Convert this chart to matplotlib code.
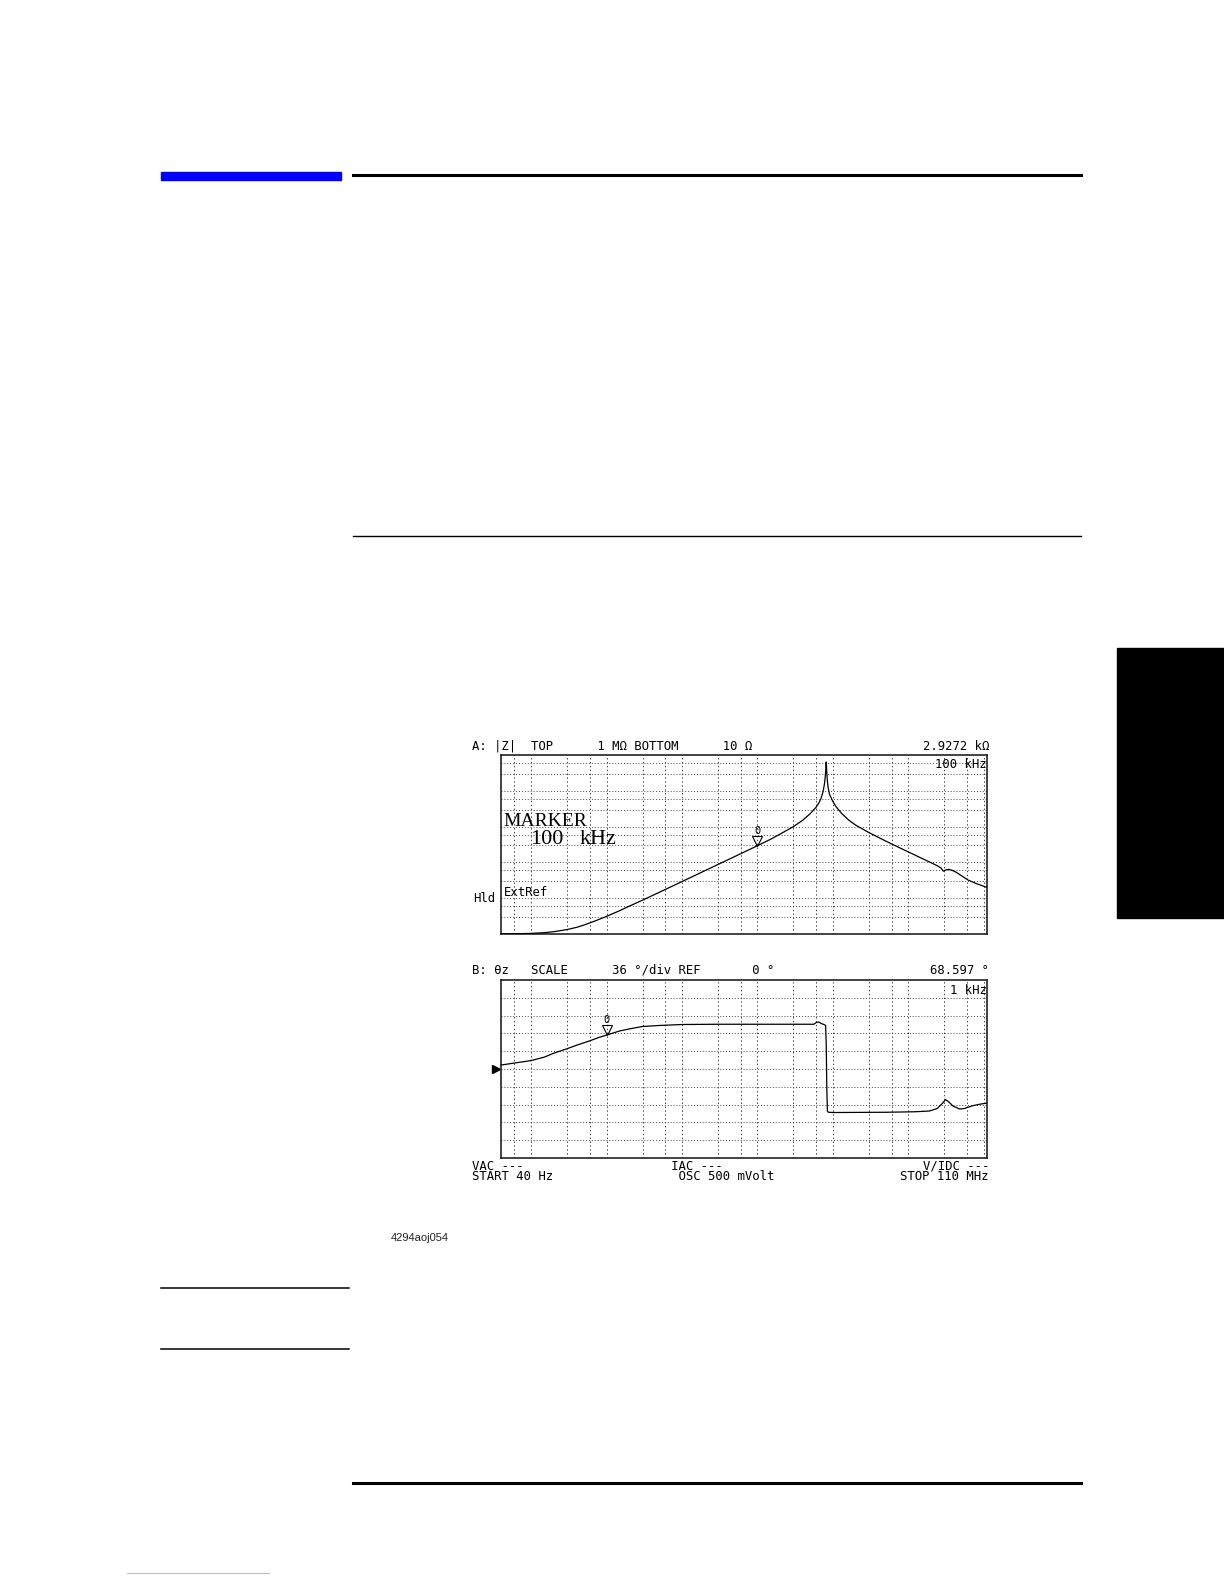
import matplotlib
matplotlib.use("Agg")
import matplotlib.pyplot as plt
from matplotlib.patches import Rectangle
from matplotlib.lines import Line2D
from matplotlib.ticker import NullLocator
from matplotlib.transforms import offset_copy, blended_transform_factory

W, H = 1224, 1584

# trace A: |Z| (ohm) vs frequency (Hz)
freq_a = [40, 70, 100, 150, 200, 300, 400, 500, 700, 1e3, 1.5e3, 2e3, 3e3, 5e3, 7e3,
          1e4, 1.5e4, 2e4, 3e4, 5e4, 7e4, 1e5, 1.5e5, 2e5, 3e5, 4e5, 5e5, 6e5, 6.6e5,
          7e5, 7.4e5, 7.7e5, 7.9e5, 8.05e5, 8.15e5, 8.25e5, 8.4e5, 8.6e5, 9e5, 1e6,
          1.1e6, 1.3e6, 1.6e6, 2e6, 3e6, 5e6, 7e6, 1e7, 1.5e7, 2e7, 2.4e7, 2.7e7,
          2.9e7, 3.1e7, 3.4e7, 3.8e7, 4.3e7, 5e7, 6.2e7, 8e7, 1.1e8]
z_a = [10.1, 10.2, 10.4, 10.9, 11.6, 13.3, 15.3, 17.7, 23.0, 31.0, 45, 60, 88, 146, 204,
       292, 437, 583, 875, 1460, 2045, 2927, 4450, 6200, 10000, 15200, 23000, 35000, 48000,
       64000, 95000, 150000, 240000, 400000, 640000, 400000, 210000, 130000, 80000, 50000,
       36000, 23500, 15500, 11000, 6800, 3950, 2800, 1960, 1300, 980, 810, 700,
       570, 610, 640, 600, 530, 430, 320, 255, 200]

# trace B: theta z (deg) vs frequency (Hz)
freq_b = [40, 60, 100, 150, 200, 300, 400, 600, 800, 1e3, 1.5e3, 2e3, 3e3, 5e3, 1e4,
          3e4, 1e5, 3e5, 5.6e5, 6e5, 6.5e5, 7e5, 7.6e5, 8e5, 8.15e5, 8.3e5, 8.45e5,
          8.7e5, 1e6, 5e6, 1.2e7, 1.9e7, 2.4e7, 2.8e7, 3.1e7, 3.4e7, 3.9e7, 4.8e7,
          5.5e7, 7.2e7, 9e7, 1.1e8]
theta_b = [8, 12, 17, 24, 32, 41, 48, 57, 64, 68.6, 77, 81, 86, 88, 90,
           90.5, 90.5, 90.5, 90.5, 94, 95, 92, 90, 88, 50, -40, -85,
           -87.5, -88, -87.5, -86.5, -85, -80, -70, -62, -66, -75, -81,
           -80, -74, -71, -69]

grid_f = [60, 100, 300, 600, 1e3, 3e3, 6e3, 1e4, 3e4, 6e4, 1e5, 3e5, 6e5,
          1e6, 3e6, 6e6, 1e7, 3e7, 6e7, 1e8]
grid_z = [30, 60, 100, 300, 600, 1e3, 3e3, 6e3, 1e4, 3e4, 6e4, 1e5, 3e5, 6e5]
grid_t = [-144, -108, -72, -36, 0, 36, 72, 108, 144]

mk_a = (1e5, 2927.2)
mk_b = (1e3, 68.597)

mono = "DejaVu Sans Mono"
fs = 8.85


def fx(x):
    return x / W


def fy(y):
    return 1 - y / H


fig = plt.figure(figsize=(W / 100, H / 100), dpi=100)

# page decorations
fig.add_artist(Rectangle((fx(161), fy(180)), 180 / W, 8 / H, color="#0000ff", transform=fig.transFigure))
for y, x0, x1, lw in [(174.5, 353, 1081, 2.2), (536, 353, 1081, 1.0), (1288, 161, 349, 1.1),
                      (1349, 161, 349, 1.1), (1482.5, 353, 1081, 2.2)]:
    fig.add_artist(Line2D([fx(x0), fx(x1)], [fy(y), fy(y)], color="black", lw=lw,
                          transform=fig.transFigure))
fig.add_artist(Line2D([fx(127), fx(269)], [fy(1573), fy(1573)], color="#b8bfd0", lw=0.8,
                      transform=fig.transFigure))
fig.add_artist(Rectangle((fx(1117), fy(918)), 107 / W, 270 / H, color="black", transform=fig.transFigure))
fig.text(fx(391), fy(1238), "4294aoj054", fontfamily="Liberation Sans", fontsize=8,
         color="#222222", va="center", ha="left")

ax1 = fig.add_axes([fx(501), fy(934), 486 / W, 179 / H])
ax2 = fig.add_axes([fx(501), fy(1158), 486 / W, 178 / H])

ax1.set_yscale("log")
ax1.set_ylim(10, 1e6)
ax2.set_ylim(-180, 180)

for ax in (ax1, ax2):
    ax.set_xscale("log")
    ax.set_xlim(40, 110e6)
    for axis in (ax.xaxis, ax.yaxis):
        axis.set_major_locator(NullLocator())
        axis.set_minor_locator(NullLocator())
    ax.tick_params(which="both", left=False, bottom=False, labelleft=False, labelbottom=False)
    for s in ax.spines.values():
        s.set_linewidth(1.2)
        s.set_color("#222222")
    for f in grid_f:
        ax.axvline(f, color="#444444", lw=0.7, ls=(0, (1.5, 2.5)), zorder=1)

for z in grid_z:
    ax1.axhline(z, color="#444444", lw=0.7, ls=(0, (1, 2)), zorder=1)
for t in grid_t:
    ax2.axhline(t, color="#444444", lw=0.7, ls=(0, (1, 2)), zorder=1)

ax1.plot(freq_a, z_a, color="black", lw=0.9, zorder=3)
ax2.plot(freq_b, theta_b, color="black", lw=0.9, zorder=3)

# markers
for ax, (mf, mv) in ((ax1, mk_a), (ax2, mk_b)):
    ax.plot([mf], [mv], marker="v", ms=6.5, mfc="none", mec="black", mew=0.8,
            transform=offset_copy(ax.transData, fig=fig, x=0, y=5, units="dots"),
            clip_on=False, zorder=4)
    ax.text(mf, mv, "0", fontfamily=mono, fontsize=7.5, ha="center", va="center",
            transform=offset_copy(ax.transData, fig=fig, x=0, y=15, units="dots"), zorder=4)

ax2.plot([-0.011], [0], marker=">", ms=5.5, color="black", clip_on=False,
         transform=blended_transform_factory(ax2.transAxes, ax2.transData))

# screen annotations
hdr_a = "A: |Z|" + "  " + "TOP" + " " * 6 + "1 MΩ BOTTOM" + " " * 6 + "10 Ω"
hdr_b = "B: θz" + "   " + "SCALE" + " " * 6 + "36 °/div REF" + " " * 7 + "0 °"
fig.text(fx(472), fy(746), hdr_a, fontfamily=mono, fontsize=fs, va="center", ha="left")
fig.text(fx(989), fy(746), f"{mk_a[1] / 1000:.4f} kΩ", fontfamily=mono, fontsize=fs, va="center", ha="right")
fig.text(fx(987), fy(765), "100 kHz", fontfamily=mono, fontsize=fs, va="center", ha="right")
fig.text(fx(472), fy(970), hdr_b, fontfamily=mono, fontsize=fs, va="center", ha="left")
fig.text(fx(989), fy(970), f"{mk_b[1]:.3f} °", fontfamily=mono, fontsize=fs, va="center", ha="right")
fig.text(fx(987), fy(990), "1 kHz", fontfamily=mono, fontsize=fs, va="center", ha="right")

fig.text(fx(504), fy(893), "ExtRef", fontfamily=mono, fontsize=fs, va="center", ha="left")
fig.text(fx(473), fy(899), "Hld", fontfamily=mono, fontsize=fs, va="center", ha="left")

fig.text(fx(503), fy(821), "MARKER", fontfamily="Liberation Serif", fontsize=14, va="center", ha="left")
fig.text(fx(530), fy(840), "100", fontfamily="Liberation Serif", fontsize=16, va="center", ha="left")
fig.text(fx(580), fy(840), "kHz", fontfamily="Liberation Serif", fontsize=16, va="center", ha="left")

fig.text(fx(472), fy(1166), "VAC ---" + " " * 20 + "IAC ---", fontfamily=mono, fontsize=fs, va="center", ha="left")
fig.text(fx(472), fy(1176.5), "START 40 Hz" + " " * 17 + "OSC 500 mVolt", fontfamily=mono, fontsize=fs,
         va="center", ha="left")
fig.text(fx(989), fy(1166), "V/IDC ---", fontfamily=mono, fontsize=fs, va="center", ha="right")
fig.text(fx(989), fy(1176.5), "STOP 110 MHz", fontfamily=mono, fontsize=fs, va="center", ha="right")

fig.savefig("out.png", dpi=100)
